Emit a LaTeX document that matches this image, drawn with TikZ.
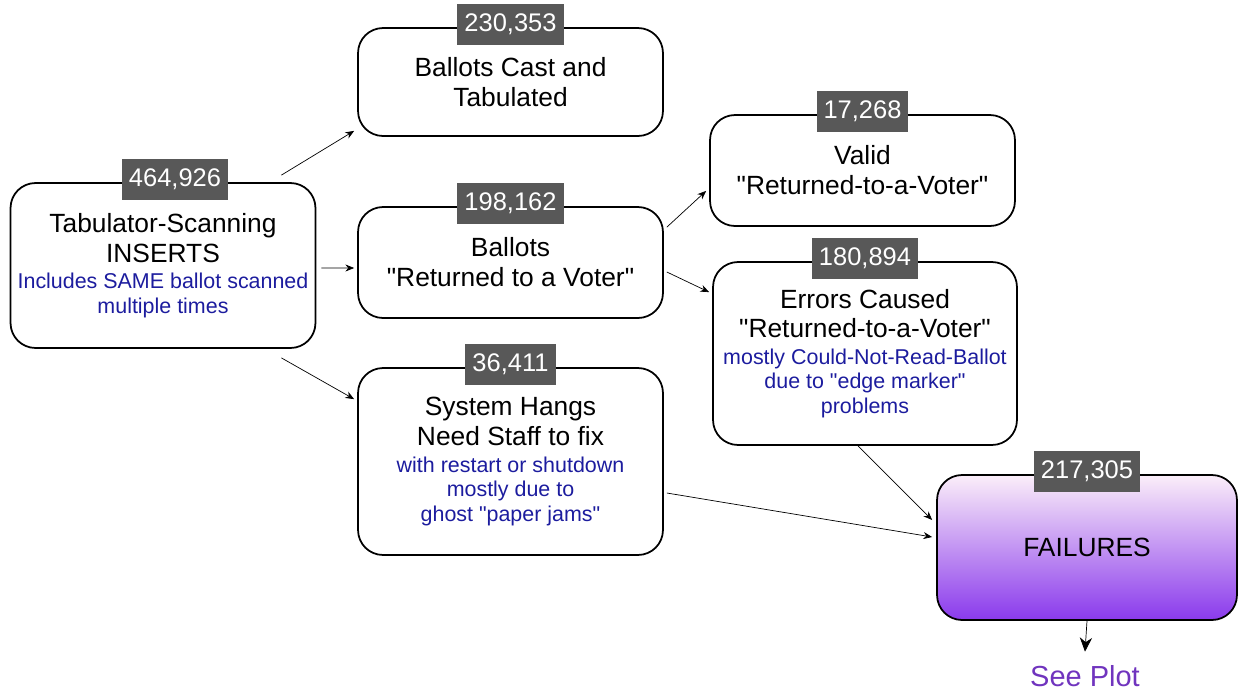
\documentclass[tikz,border=0pt]{standalone}
\usepackage{fontspec}
\setmainfont{Liberation Sans}
\usetikzlibrary{arrows.meta}
\definecolor{numgray}{RGB}{88,88,88}
\definecolor{noteblue}{RGB}{28,28,158}
\definecolor{plotpurple}{RGB}{112,52,190}
\definecolor{failtop}{RGB}{251,238,249}
\definecolor{failbot}{RGB}{138,58,236}
\newcommand{\notefont}{\fontsize{12.2}{14}\selectfont\color{noteblue}}
\newcommand{\q}{\textquotedbl}

\begin{document}
\begin{tikzpicture}[x=0.02cm,y=-0.02cm,
  box/.style={draw,line width=1pt,rounded corners=0.5cm,align=center,
    font=\fontsize{15}{17}\selectfont},
  num/.style={fill=numgray,text=white,font=\fontsize{14.5}{15}\selectfont,
    inner xsep=4pt,minimum height=0.82cm},
  arr/.style={-{Stealth[length=5pt,width=4pt]},thin}]
\useasboundingbox (0,0) rectangle (1241,694);

% boxes
\node[box,minimum width=6.1cm,minimum height=3.3cm] (ins) at (163,265.5)
  {Tabulator-Scanning\\INSERTS\\[-2pt]{\notefont Includes SAME ballot scanned}\\[-3pt]{\notefont multiple times}};
\node[box,minimum width=6.1cm,minimum height=2.16cm] (cast) at (510.5,82)
  {Ballots Cast and\\Tabulated};
\node[box,minimum width=6.1cm,minimum height=2.22cm] (ret) at (510.5,262.5)
  {Ballots\\\q Returned to a Voter\q};
\node[box,minimum width=6.1cm,minimum height=3.74cm] (hang) at (510.5,461.5)
  {System Hangs\\Need Staff to fix\\[-2pt]{\notefont with restart or shutdown}\\[-3pt]{\notefont mostly due to}\\[-3pt]{\notefont ghost \q paper jams\q}};
\node[box,minimum width=6.1cm,minimum height=2.22cm] (valid) at (862.5,170.5)
  {Valid\\\q Returned-to-a-Voter\q};
\node[box,minimum width=6.08cm,minimum height=3.66cm] (err) at (865,353.5)
  {Errors Caused\\\q Returned-to-a-Voter\q\\[-2pt]{\notefont mostly Could-Not-Read-Ballot}\\[-3pt]{\notefont due to \q edge marker\q}\\[-3pt]{\notefont problems}};
\node[box,minimum width=6cm,minimum height=2.9cm,top color=failtop,bottom color=failbot] (fail) at (1087,547.5)
  {FAILURES};
\node[text=plotpurple,font=\fontsize{16.5}{18}\selectfont] (plot) at (1085,676) {See Plot};

% counts
\node[num] (nins) at ([xshift=0.24cm,yshift=0.05cm]ins.north) {464,926};
\node[num] (ncast) at ([yshift=0.05cm]cast.north) {230,353};
\node[num] (nret) at ([yshift=0.05cm]ret.north) {198,162};
\node[num] (nhang) at ([yshift=0.05cm]hang.north) {36,411};
\node[num] (nvalid) at ([yshift=0.05cm]valid.north) {17,268};
\node[num] (nerr) at ([yshift=0.05cm]err.north) {180,894};
\node[num] (nfail) at ([yshift=0.05cm]fail.north) {217,305};

% arrows
\draw[arr] ([xshift=-0.7cm,yshift=0.14cm]ins.north east) -- ([xshift=-0.06cm,yshift=0.12cm]cast.south west);
\draw[arr] ([xshift=0.1cm,yshift=-0.05cm]ins.east) -- ([xshift=-0.06cm,yshift=-0.11cm]ret.west);
\draw[arr] ([xshift=-0.7cm,yshift=-0.18cm]ins.south east) -- ([xshift=-0.06cm,yshift=-0.64cm]hang.north west);
\draw[arr] ([xshift=0.06cm,yshift=-0.42cm]ret.north east) -- ([xshift=-0.06cm,yshift=0.72cm]valid.south west);
\draw[arr] ([xshift=0.06cm,yshift=-0.19cm]ret.east) -- ([xshift=-0.06cm,yshift=-0.62cm]err.north west);
\draw[arr] ([xshift=-0.14cm]err.south) -- ([xshift=-0.08cm,yshift=0.55cm]fail.west);
\draw[arr] ([xshift=0.06cm,yshift=-0.63cm]hang.east) -- ([xshift=-0.08cm,yshift=0.21cm]fail.west);
\draw[-{Stealth[length=8pt,width=7pt]},thin] (fail.south) -- ([yshift=0.15cm]plot.north);
\end{tikzpicture}
\end{document}
